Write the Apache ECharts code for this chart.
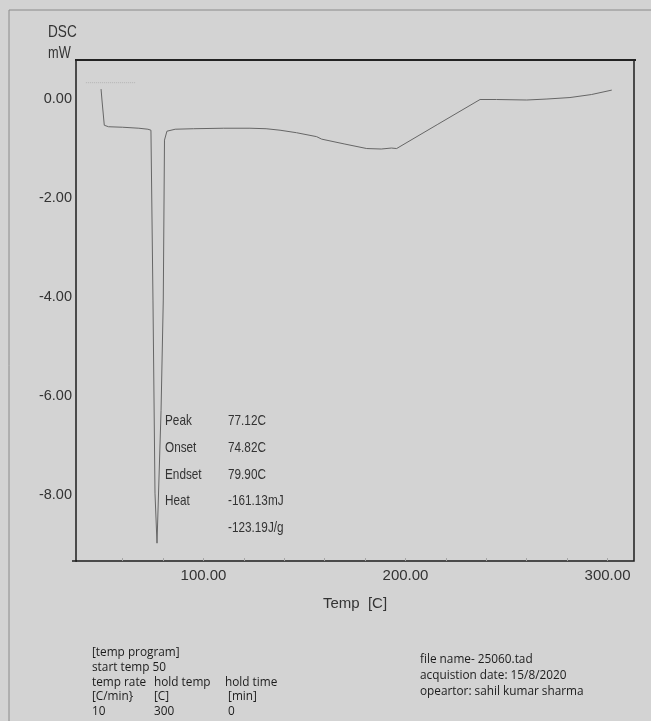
<!DOCTYPE html>
<html>
<head>
<meta charset="utf-8">
<script src="https://cdn.jsdelivr.net/npm/echarts@6/dist/echarts.min.js"></script>
<style>
  html, body { margin: 0; padding: 0; background: #d3d3d3; }
  #c { width: 651px; height: 721px; }
</style>
</head>
<body>
<div id="c"></div>
<script>
// DSC heating run: temperature (C) and heat flow (mW)
const temps = [49.3, 49.8, 50.9, 53.0, 60.0, 68.0, 72.5, 74.0, 75.0, 76.0, 77.0,
  79.0, 80.1, 80.7, 81.9, 86.0, 95.0, 110.0, 123.0, 131.0, 137.9, 146.0, 156.0,
  158.5, 170.0, 180.8, 188.0, 193.0, 195.6, 216.0, 236.9, 245.0, 260.0, 270.0,
  281.4, 292.0, 302.1];
const dsc = [0.19, -0.05, -0.54, -0.57, -0.58, -0.60, -0.62, -0.64, -4.07, -7.97, -8.98,
  -6.30, -4.07, -0.84, -0.66, -0.62, -0.61, -0.60, -0.60, -0.61, -0.64, -0.69, -0.77,
  -0.82, -0.92, -1.01, -1.02, -1.00, -1.01, -0.52, -0.02, -0.02, -0.03, -0.01,
  0.02, 0.08, 0.17];

// faint pre-run trace at the top left
const preTemps = [41.8, 66.6];
const preDsc = [0.32, 0.32];

// axis labels and ticks
const xLabelValues = [100, 200, 300];
const xTickValues = [60, 80, 100, 120, 140, 160, 180, 200, 220, 240, 260, 280, 300];
const yLabelValues = [0, -2, -4, -6, -8];

// peak analysis results
const peakNames = ['Peak', 'Onset', 'Endset', 'Heat', ''];
const peakValues = ['77.12C', '74.82C', '79.90C', '-161.13mJ', '-123.19J/g'];

// temperature program and run info
const programRows = [
  ['[temp program]', '', ''],
  ['start temp 50', '', ''],
  ['temp rate', 'hold temp', 'hold time'],
  ['[C/min}', '[C]', ' [min]'],
  ['10', '300', ' 0']
];
const fileLines = ['file name- 25060.tad', 'acquistion date: 15/8/2020', 'opeartor: sahil kumar sharma'];

const SANS = "'Liberation Sans', Arial, sans-serif";
const UI = "'Open Sans', 'Noto Sans', sans-serif";

const chart = echarts.init(document.getElementById('c'), null, { renderer: 'canvas' });

// condensed text helper for the plot annotations
function narrowText(x, y, text, size, sx) {
  return {
    type: 'text', x: x, y: y, scaleX: sx, scaleY: 1.08,
    style: { text: text, font: size + 'px ' + SANS, fill: '#333', verticalAlign: 'middle' }
  };
}

const graphics = [];
// outer sheet frame (top and left edges)
graphics.push({ type: 'line', shape: { x1: 9, y1: 10, x2: 651, y2: 10 }, style: { stroke: '#8a8a8a', lineWidth: 1 } });
graphics.push({ type: 'line', shape: { x1: 9, y1: 10, x2: 9, y2: 721 }, style: { stroke: '#8a8a8a', lineWidth: 1 } });
// heavier top rule of the plot box
graphics.push({ type: 'line', shape: { x1: 75, y1: 60, x2: 636, y2: 60 }, style: { stroke: '#222', lineWidth: 2 } });
// bottom rule reaches slightly left of the y axis
graphics.push({ type: 'line', shape: { x1: 72, y1: 561, x2: 77, y2: 561 }, style: { stroke: '#1e1e1e', lineWidth: 1.5 } });
// y axis title
graphics.push(narrowText(48, 32, 'DSC', 16, 0.85));
graphics.push(narrowText(48, 53, 'mW', 16, 0.8));
// peak table
peakNames.forEach((n, i) => {
  const y = 421 + i * 26.7;
  if (n) graphics.push(narrowText(165, y, n, 14, 0.84));
  graphics.push(narrowText(228, y, peakValues[i], 14, 0.84));
});
// temperature program block
const colX = [92, 154, 225];
programRows.forEach((row, i) => {
  row.forEach((t, j) => {
    if (t) graphics.push({ type: 'text', x: colX[j], y: 653 + i * 14.7, style: { text: t, font: '11.8px ' + UI, fill: '#1c1c1c', verticalAlign: 'middle' } });
  });
});
fileLines.forEach((t, i) => {
  graphics.push({ type: 'text', x: 420, y: 660 + i * 15.8, style: { text: t, font: '11.8px ' + UI, fill: '#1c1c1c', verticalAlign: 'middle' } });
});

chart.setOption({
  backgroundColor: '#d3d3d3',
  animation: false,
  grid: { left: 76, top: 60, right: 17, bottom: 160, show: true, borderColor: '#1e1e1e', borderWidth: 1.5, backgroundColor: 'transparent' },
  xAxis: {
    type: 'value', min: 36.9, max: 313.1,
    name: 'Temp  [C]', nameLocation: 'middle', nameGap: 35,
    nameTextStyle: { fontFamily: SANS, fontSize: 15, color: '#333' },
    axisLine: { show: false, onZero: false },
    axisTick: { show: true, inside: true, length: 3, customValues: xTickValues, lineStyle: { color: '#a5a5a5', width: 1 } },
    axisLabel: { customValues: xLabelValues, formatter: v => v.toFixed(2), fontFamily: SANS, fontSize: 15, color: '#333', margin: 7 },
    splitLine: { show: false }
  },
  yAxis: {
    type: 'value', min: -9.34, max: 0.778,
    axisLine: { show: false, onZero: false },
    axisTick: { show: false },
    axisLabel: { customValues: yLabelValues, formatter: v => v.toFixed(2), fontFamily: SANS, fontSize: 14.5, color: '#333', margin: 4 },
    splitLine: { show: false }
  },
  series: [
    {
      type: 'line', data: temps.map((t, i) => [t, dsc[i]]), showSymbol: false,
      lineStyle: { color: '#666', width: 1 }, z: 3
    },
    {
      type: 'line', data: preTemps.map((t, i) => [t, preDsc[i]]), showSymbol: false,
      lineStyle: { color: '#b3b3b3', width: 1, type: 'dotted' }, z: 2
    }
  ],
  graphic: graphics
});
</script>
</body>
</html>
